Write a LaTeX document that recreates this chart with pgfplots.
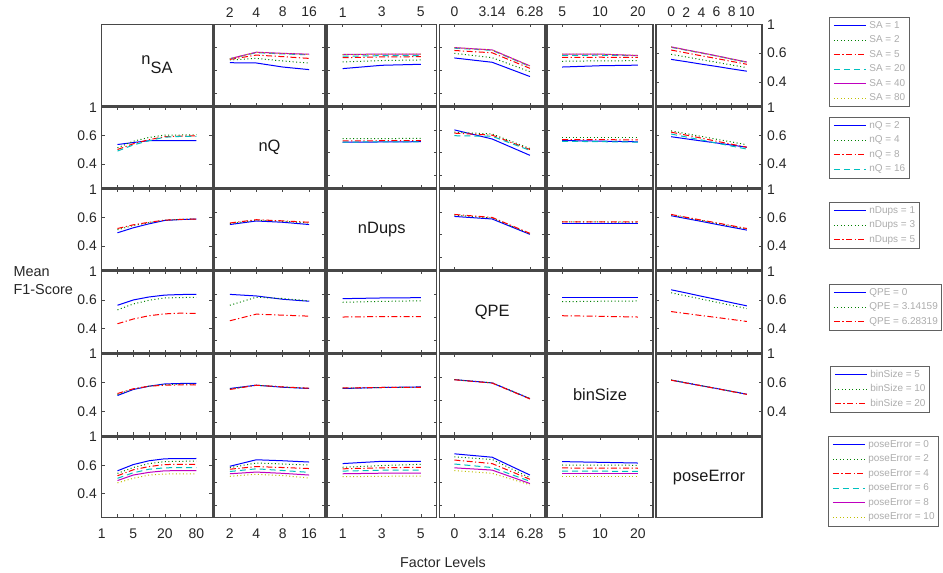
\documentclass[border=0pt]{standalone}
\usepackage{fontspec}
\setmainfont{Liberation Sans}
\usepackage{pgfplots}
\usepackage{pgfplotstable}
\pgfplotsset{compat=1.18}
\definecolor{mblue}{rgb}{0,0,1}
\definecolor{mgreen}{rgb}{0,0.5,0}
\definecolor{mred}{rgb}{1,0,0}
\definecolor{mcyan}{rgb}{0,0.75,0.75}
\definecolor{mmag}{rgb}{0.75,0,0.75}
\definecolor{myel}{rgb}{0.75,0.75,0}
\tikzset{
 s1/.style={draw=mblue, solid, line width=1bp},
 s2/.style={draw=mgreen, dash pattern=on 1bp off 2.5bp, line width=1bp},
 s3/.style={draw=mred, dash pattern=on 6bp off 2.5bp on 1.2bp off 2.5bp, line width=1bp},
 s4/.style={draw=mcyan, dash pattern=on 6bp off 4bp, line width=1bp},
 s5/.style={draw=mmag, solid, line width=1bp},
 s6/.style={draw=myel, dash pattern=on 1bp off 2.5bp, line width=1bp},
}
\pgfplotscreateplotcyclelist{ml}{s1\\s2\\s3\\s4\\s5\\s6\\}
\expandafter\def\csname cx1\endcsname{101.7}\expandafter\def\csname cw1\endcsname{110.5}
\expandafter\def\csname cx2\endcsname{214}\expandafter\def\csname cw2\endcsname{111}
\expandafter\def\csname cx3\endcsname{327}\expandafter\def\csname cw3\endcsname{109.5}
\expandafter\def\csname cx4\endcsname{439.3}\expandafter\def\csname cw4\endcsname{105.7}
\expandafter\def\csname cx5\endcsname{547}\expandafter\def\csname cw5\endcsname{106}
\expandafter\def\csname cx6\endcsname{656}\expandafter\def\csname cw6\endcsname{106}
\expandafter\def\csname ry1\endcsname{24.3}\expandafter\def\csname rh1\endcsname{81.7}
\expandafter\def\csname ry2\endcsname{107.3}\expandafter\def\csname rh2\endcsname{80.7}
\expandafter\def\csname ry3\endcsname{189.3}\expandafter\def\csname rh3\endcsname{80.7}
\expandafter\def\csname ry4\endcsname{271.3}\expandafter\def\csname rh4\endcsname{81.4}
\expandafter\def\csname ry5\endcsname{354}\expandafter\def\csname rh5\endcsname{81.3}
\expandafter\def\csname ry6\endcsname{437}\expandafter\def\csname rh6\endcsname{80.3}
\pgfplotsset{
 panel/.style={scale only axis, anchor=north west, ymin=0.232, ymax=0.8, cycle list name=ml,
   axis line style={black!72, line width=1.1bp},
   every tick/.style={black!72, line width=0.6bp}, major tick length=3bp, tick align=inside,
   xticklabels={}, yticklabels={}, ytick={0.32,0.48,0.64},
   tick label style={font=\fontsize{14}{16}\selectfont, inner sep=0pt, text=black!85}},
 c1/.style={xmin=0,xmax=7,xtick={0,...,7}},
 c2/.style={xmin=0.4,xmax=4.6,xtick={1,...,4}},
 c3/.style={xmin=0.6,xmax=3.4,xtick={1,2,3}},
 c4/.style={c3}, c5/.style={c3},
 c6/.style={xmin=0,xmax=7,xtick={1,...,6}},
 top/.style={xticklabel pos=upper, xticklabel style={anchor=south, yshift=7bp}},
 bot/.style={xticklabel pos=lower, xticklabel style={anchor=north, yshift=-11bp}},
 lft/.style={ytick={0.4,0.6,0.8}, yticklabels={0.4,0.6,1}, yticklabel pos=left, yticklabel style={anchor=east, xshift=-4.7bp}},
 rgt/.style={ytick={0.4,0.6,0.8}, yticklabels={0.4,0.6,1}, yticklabel pos=right, yticklabel style={anchor=west, xshift=5bp}},
 diag/.style={xtick=\empty, ytick=\empty},
 lgd/.style={scale only axis, anchor=north west, width=5bp, height=5bp, hide axis, xmin=0,xmax=1,ymin=0,ymax=1,
   legend style={at={(0,1)}, anchor=north west, draw=black!62, line width=0.8bp, fill=white,
     font=\fontsize{10}{12}\selectfont, text=black!32, inner xsep=4bp, inner ysep=3.5bp,
     legend cell align=left, row sep=4.5bp,
     nodes={inner sep=0pt, text height=7.5bp, text depth=2.5bp},
     /tikz/every odd column/.append style={column sep=3bp}},
   legend image code/.code={\draw[##1] (0bp,0bp) -- (32bp,0bp);}},
}
\newcommand\PA[3]{\begin{axis}[panel, c#1, #3,
  at={(\csname cx#1\endcsname bp,-\csname ry#2\endcsname bp)},
  width=\csname cw#1\endcsname bp, height=\csname rh#2\endcsname bp]}
\newcommand\series[2]{\pgfplotsinvokeforeach{1,...,#2}{\addplot table[x index=0,y index=##1]{#1};}}
\newcommand\dlab[1]{\node[font=\fontsize{16.5}{18}\selectfont, text=black!90] at (rel axis cs:0.5,0.5) {#1};}

% ---------- data (x position, one column per group level) ----------
\pgfplotstableread{
x a b c d e f
1 0.533 0.552 0.556 0.560 0.561 0.561
2 0.531 0.563 0.586 0.603 0.606 0.605
3 0.503 0.545 0.575 0.594 0.598 0.597
4 0.485 0.531 0.563 0.588 0.592 0.591
}\tAB
\pgfplotstableread{
x a b c d e f
1 0.492 0.538 0.568 0.578 0.590 0.589
2 0.515 0.548 0.573 0.582 0.593 0.592
3 0.522 0.552 0.575 0.583 0.593 0.592
}\tAC
\pgfplotstableread{
x a b c d e f
1 0.566 0.598 0.618 0.634 0.638 0.637
2 0.536 0.568 0.602 0.619 0.622 0.621
3 0.437 0.471 0.494 0.507 0.511 0.510
}\tAD
\pgfplotstableread{
x a b c d e f
1 0.503 0.543 0.570 0.584 0.593 0.592
2 0.512 0.546 0.571 0.585 0.593 0.592
3 0.516 0.547 0.570 0.582 0.583 0.584
}\tAE
\pgfplotstableread{
x a b c d e f
1 0.556 0.591 0.621 0.640 0.643 0.642
2 0.540 0.573 0.601 0.620 0.622 0.621
3 0.523 0.554 0.581 0.600 0.602 0.601
4 0.507 0.536 0.562 0.580 0.581 0.580
5 0.490 0.517 0.542 0.557 0.559 0.558
6 0.474 0.499 0.522 0.536 0.538 0.537
}\tAF
\pgfplotstableread{
x a b c d
1 0.538 0.515 0.503 0.492
2 0.552 0.561 0.543 0.535
3 0.565 0.588 0.572 0.565
4 0.565 0.605 0.593 0.590
5 0.565 0.605 0.597 0.595
6 0.565 0.607 0.600 0.595
}\tBA
\pgfplotstableread{
x a b c d
1 0.554 0.579 0.563 0.555
2 0.556 0.580 0.565 0.557
3 0.558 0.581 0.565 0.557
}\tBC
\pgfplotstableread{
x a b c d
1 0.641 0.625 0.618 0.600
2 0.577 0.612 0.604 0.596
3 0.462 0.510 0.503 0.497
}\tBD
\pgfplotstableread{
x a b c d
1 0.566 0.588 0.572 0.561
2 0.562 0.588 0.572 0.558
3 0.557 0.588 0.571 0.555
}\tBE
\pgfplotstableread{
x a b c d
1 0.593 0.634 0.625 0.612
2 0.578 0.614 0.604 0.591
3 0.563 0.595 0.583 0.570
4 0.549 0.575 0.561 0.548
5 0.534 0.556 0.540 0.527
6 0.519 0.536 0.519 0.506
}\tBF
\pgfplotstableread{
x a b c
1 0.494 0.515 0.524
2 0.529 0.545 0.550
3 0.557 0.565 0.568
4 0.581 0.583 0.583
5 0.587 0.588 0.588
6 0.591 0.591 0.591
}\tCA
\pgfplotstableread{
x a b c
1 0.552 0.558 0.563
2 0.577 0.583 0.586
3 0.568 0.575 0.578
4 0.552 0.562 0.568
}\tCB
\pgfplotstableread{
x a b c
1 0.609 0.618 0.623
2 0.591 0.598 0.602
3 0.483 0.487 0.490
}\tCD
\pgfplotstableread{
x a b c
1 0.561 0.570 0.571
2 0.561 0.570 0.570
3 0.561 0.569 0.570
}\tCE
\pgfplotstableread{
x a b c
1 0.614 0.620 0.623
2 0.594 0.600 0.603
3 0.574 0.580 0.583
4 0.553 0.560 0.564
5 0.533 0.540 0.544
6 0.513 0.520 0.524
}\tCF
\pgfplotstableread{
x a b c
1 0.563 0.531 0.434
2 0.600 0.572 0.467
3 0.621 0.598 0.490
4 0.634 0.614 0.503
5 0.638 0.617 0.508
6 0.639 0.618 0.506
}\tDA
\pgfplotstableread{
x a b c
1 0.639 0.563 0.455
2 0.628 0.619 0.501
3 0.605 0.610 0.494
4 0.591 0.594 0.487
}\tDB
\pgfplotstableread{
x a b c
1 0.609 0.584 0.481
2 0.614 0.590 0.484
3 0.616 0.594 0.484
}\tDC
\pgfplotstableread{
x a b c
1 0.616 0.588 0.490
2 0.616 0.591 0.486
3 0.616 0.593 0.481
}\tDE
\pgfplotstableread{
x a b c
1 0.671 0.650 0.519
2 0.649 0.628 0.505
3 0.626 0.606 0.491
4 0.604 0.584 0.478
5 0.581 0.562 0.464
6 0.559 0.540 0.450
}\tDF
\pgfplotstableread{
x a b c
1 0.510 0.517 0.524
2 0.552 0.555 0.557
3 0.575 0.576 0.575
4 0.591 0.586 0.582
5 0.594 0.589 0.584
6 0.595 0.590 0.585
}\tEA
\pgfplotstableread{
x a b c
1 0.559 0.556 0.552
2 0.582 0.582 0.582
3 0.568 0.570 0.570
4 0.559 0.560 0.561
}\tEB
\pgfplotstableread{
x a b c
1 0.559 0.561 0.563
2 0.566 0.566 0.566
3 0.570 0.568 0.566
}\tEC
\pgfplotstableread{
x a b c
1 0.621 0.621 0.620
2 0.598 0.599 0.597
3 0.488 0.490 0.486
}\tED
\pgfplotstableread{
x a b c
1 0.618 0.619 0.617
2 0.598 0.599 0.597
3 0.578 0.579 0.578
4 0.559 0.559 0.558
5 0.539 0.539 0.538
6 0.519 0.519 0.518
}\tEF
\pgfplotstableread{
x a b c d e f
1 0.561 0.543 0.526 0.508 0.492 0.476
2 0.605 0.584 0.568 0.547 0.531 0.508
3 0.632 0.612 0.591 0.572 0.550 0.531
4 0.646 0.626 0.605 0.582 0.561 0.538
5 0.647 0.628 0.607 0.584 0.562 0.540
6 0.648 0.630 0.607 0.584 0.562 0.540
}\tFA
\pgfplotstableread{
x a b c d e f
1 0.593 0.583 0.572 0.556 0.540 0.522
2 0.639 0.616 0.591 0.575 0.552 0.536
3 0.632 0.609 0.584 0.563 0.543 0.527
4 0.623 0.602 0.577 0.550 0.531 0.510
}\tFB
\pgfplotstableread{
x a b c d e f
1 0.612 0.586 0.575 0.559 0.540 0.519
2 0.628 0.598 0.582 0.565 0.544 0.522
3 0.628 0.607 0.586 0.565 0.545 0.524
}\tFC
\pgfplotstableread{
x a b c d e f
1 0.681 0.660 0.637 0.609 0.582 0.563
2 0.657 0.641 0.612 0.584 0.566 0.543
3 0.531 0.512 0.501 0.487 0.471 0.462
}\tFD
\pgfplotstableread{
x a b c d e f
1 0.626 0.602 0.581 0.559 0.540 0.522
2 0.621 0.601 0.580 0.558 0.540 0.522
3 0.616 0.600 0.579 0.557 0.540 0.522
}\tFE

\begin{document}
\begin{tikzpicture}
\useasboundingbox (0,0) rectangle (943bp,-573bp);
% ----- row 1 : SA -----
\PA{1}{1}{diag}\dlab{n\raisebox{-9bp}{SA}}\end{axis}
\PA{2}{1}{top,xticklabels={2,4,8,16}}\series{\tAB}{6}\end{axis}
\PA{3}{1}{top,xticklabels={1,3,5}}\series{\tAC}{6}\end{axis}
\PA{4}{1}{top,xticklabels={0,3.14,6.28}}\series{\tAD}{6}\end{axis}
\PA{5}{1}{top,xticklabels={5,10,20}}\series{\tAE}{6}\end{axis}
\PA{6}{1}{top,xticklabels={0,2,4,6,8,10},rgt}\series{\tAF}{6}\end{axis}
% ----- row 2 : nQ -----
\PA{1}{2}{lft}\series{\tBA}{4}\end{axis}
\PA{2}{2}{diag}\dlab{nQ}\end{axis}
\PA{3}{2}{}\series{\tBC}{4}\end{axis}
\PA{4}{2}{}\series{\tBD}{4}\end{axis}
\PA{5}{2}{}\series{\tBE}{4}\end{axis}
\PA{6}{2}{rgt}\series{\tBF}{4}\end{axis}
% ----- row 3 : nDups -----
\PA{1}{3}{lft}\series{\tCA}{3}\end{axis}
\PA{2}{3}{}\series{\tCB}{3}\end{axis}
\PA{3}{3}{diag}\dlab{nDups}\end{axis}
\PA{4}{3}{}\series{\tCD}{3}\end{axis}
\PA{5}{3}{}\series{\tCE}{3}\end{axis}
\PA{6}{3}{rgt}\series{\tCF}{3}\end{axis}
% ----- row 4 : QPE -----
\PA{1}{4}{lft}\series{\tDA}{3}\end{axis}
\PA{2}{4}{}\series{\tDB}{3}\end{axis}
\PA{3}{4}{}\series{\tDC}{3}\end{axis}
\PA{4}{4}{diag}\dlab{QPE}\end{axis}
\PA{5}{4}{}\series{\tDE}{3}\end{axis}
\PA{6}{4}{rgt}\series{\tDF}{3}\end{axis}
% ----- row 5 : binSize -----
\PA{1}{5}{lft}\series{\tEA}{3}\end{axis}
\PA{2}{5}{}\series{\tEB}{3}\end{axis}
\PA{3}{5}{}\series{\tEC}{3}\end{axis}
\PA{4}{5}{}\series{\tED}{3}\end{axis}
\PA{5}{5}{diag}\dlab{binSize}\end{axis}
\PA{6}{5}{rgt}\series{\tEF}{3}\end{axis}
% ----- row 6 : poseError -----
\PA{1}{6}{lft,bot,xticklabels={1,,5,,20,,80}}\series{\tFA}{6}\end{axis}
\PA{2}{6}{bot,xticklabels={2,4,8,16}}\series{\tFB}{6}\end{axis}
\PA{3}{6}{bot,xticklabels={1,3,5}}\series{\tFC}{6}\end{axis}
\PA{4}{6}{bot,xticklabels={0,3.14,6.28}}\series{\tFD}{6}\end{axis}
\PA{5}{6}{bot,xticklabels={5,10,20}}\series{\tFE}{6}\end{axis}
\PA{6}{6}{diag}\dlab{poseError}\end{axis}
% ----- legends -----
\begin{axis}[lgd, at={(829bp,-16.7bp)}]
\addlegendimage{s1}\addlegendentry{SA = 1}
\addlegendimage{s2}\addlegendentry{SA = 2}
\addlegendimage{s3}\addlegendentry{SA = 5}
\addlegendimage{s4}\addlegendentry{SA = 20}
\addlegendimage{s5}\addlegendentry{SA = 40}
\addlegendimage{s6}\addlegendentry{SA = 80}
\end{axis}
\begin{axis}[lgd, at={(829bp,-117bp)}]
\addlegendimage{s1}\addlegendentry{nQ = 2}
\addlegendimage{s2}\addlegendentry{nQ = 4}
\addlegendimage{s3}\addlegendentry{nQ = 8}
\addlegendimage{s4}\addlegendentry{nQ = 16}
\end{axis}
\begin{axis}[lgd, at={(829bp,-201.7bp)}]
\addlegendimage{s1}\addlegendentry{nDups = 1}
\addlegendimage{s2}\addlegendentry{nDups = 3}
\addlegendimage{s3}\addlegendentry{nDups = 5}
\end{axis}
\begin{axis}[lgd, at={(829bp,-284bp)}]
\addlegendimage{s1}\addlegendentry{QPE = 0}
\addlegendimage{s2}\addlegendentry{QPE = 3.14159}
\addlegendimage{s3}\addlegendentry{QPE = 6.28319}
\end{axis}
\begin{axis}[lgd, at={(830bp,-365.7bp)}]
\addlegendimage{s1}\addlegendentry{binSize = 5}
\addlegendimage{s2}\addlegendentry{binSize = 10}
\addlegendimage{s3}\addlegendentry{binSize = 20}
\end{axis}
\begin{axis}[lgd, at={(828bp,-436bp)}]
\addlegendimage{s1}\addlegendentry{poseError = 0}
\addlegendimage{s2}\addlegendentry{poseError = 2}
\addlegendimage{s3}\addlegendentry{poseError = 4}
\addlegendimage{s4}\addlegendentry{poseError = 6}
\addlegendimage{s5}\addlegendentry{poseError = 8}
\addlegendimage{s6}\addlegendentry{poseError = 10}
\end{axis}
% ----- axis titles -----
\node[anchor=base west, font=\fontsize{14.5}{16}\selectfont, text=black!85] at (10bp,-276bp) {Mean};
\node[anchor=base west, font=\fontsize{14.5}{16}\selectfont, text=black!85] at (10bp,-294bp) {F1-Score};
\node[anchor=base, font=\fontsize{14.3}{16}\selectfont, text=black!85] at (443bp,-567bp) {Factor Levels};
\end{tikzpicture}
\end{document}
